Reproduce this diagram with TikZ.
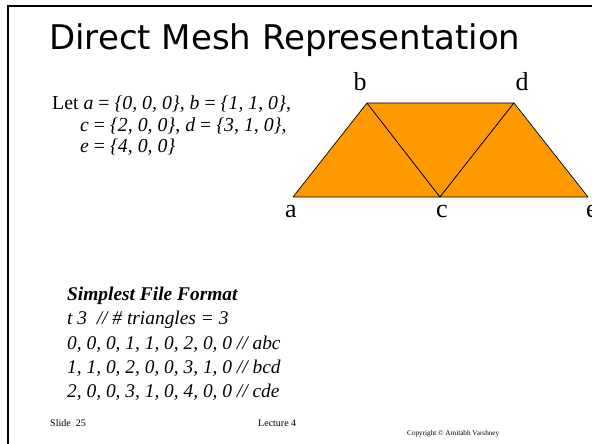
\documentclass[tikz,border=0pt]{standalone}
\usepackage{fontspec}
\setmainfont{Liberation Serif}
\newfontfamily\titlefont{DejaVu Sans}
\definecolor{meshorange}{RGB}{255,153,0}
\begin{document}
\begin{tikzpicture}[x=1pt,y=1pt,
  txt/.style={anchor=base west, inner sep=0pt, font=\fontsize{19.8}{22}\selectfont},
  lowtxt/.style={anchor=base west, inner sep=0pt, font=\fontsize{19.4}{22}\selectfont},
  vlabel/.style={anchor=base, inner sep=0pt, font=\fontsize{26}{30}\selectfont},
  foot/.style={anchor=base west, inner sep=0pt, font=\fontsize{10}{12}\selectfont},
  tri/.style={fill=meshorange, draw=black, line width=0.7pt, line join=round},
  frameline/.style={line width=2pt}]
\useasboundingbox (0,0) rectangle (592,444);
\fill[white] (0,0) rectangle (592,444);
\draw[frameline] (8.3,0) -- (8.3,438) -- (592,438);
% title
\node[anchor=base west, inner sep=0pt, font=\titlefont\fontsize{34}{40}\selectfont] (title) at (49,394) {Direct Mesh Representation};
% definitions
\node[txt] (let1) at (52,334) {Let \textit{a} = \textit{\{0, 0, 0\}}, \textit{b} = \textit{\{1, 1, 0\}},};
\node[txt] (let2) at (80,312) {\textit{c} = \textit{\{2, 0, 0\}}, \textit{d} = \textit{\{3, 1, 0\}},};
\node[txt] (let3) at (80,291) {\textit{e} = \textit{\{4, 0, 0\}}};
% mesh
\coordinate (a) at (293,247);
\coordinate (b) at (367,341);
\coordinate (c) at (440,247);
\coordinate (d) at (514,341);
\coordinate (e) at (588,247);
\filldraw[tri] (a) -- (b) -- (c) -- cycle;
\filldraw[tri] (b) -- (d) -- (c) -- cycle;
\filldraw[tri] (c) -- (d) -- (e) -- cycle;
\node[vlabel] (la) at (291,226) {a};
\node[vlabel] (lb) at (360,353) {b};
\node[vlabel] (lc) at (442,226) {c};
\node[vlabel] (ld) at (522,353) {d};
\node[vlabel] (le) at (592,226) {e};
% file format
\node[lowtxt] (fmt) at (67,143) {\textbf{\textit{Simplest File Format}}};
\node[lowtxt] (l0) at (67,119) {\textit{t 3~ // \# triangles = 3}};
\node[lowtxt] (l1) at (67,94.5) {\textit{0, 0, 0, 1, 1, 0, 2, 0, 0 // abc}};
\node[lowtxt] (l2) at (67,70) {\textit{1, 1, 0, 2, 0, 0, 3, 1, 0 // bcd}};
\node[lowtxt] (l3) at (67,46) {\textit{2, 0, 0, 3, 1, 0, 4, 0, 0 // cde}};
% footer
\node[foot] (slide) at (50,17) {Slide~ 25};
\node[foot] (lecture) at (258,17) {Lecture 4};
\node[anchor=base west, inner sep=0pt, font=\fontsize{7.2}{9}\selectfont] (copy) at (407,8) {Copyright © Amitabh Varshney};
\end{tikzpicture}
\end{document}
